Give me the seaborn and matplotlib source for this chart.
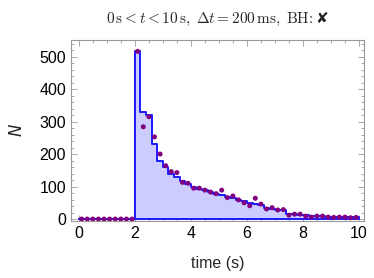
import numpy as np
import pandas as pd
import matplotlib
matplotlib.use("Agg")
import matplotlib.pyplot as plt
from matplotlib.ticker import MultipleLocator
import seaborn as sns

# 200 ms bins from 0 to 10 s
bin_edges = [round(0.2 * i, 2) for i in range(51)]
bin_centers = [round(e + 0.1, 2) for e in bin_edges[:-1]]

# histogram heights (step), first 10 bins empty
model_counts = [0] * 10 + [
    518, 328, 321, 231, 178, 160, 139, 130, 117, 108,
    99, 93, 88, 82, 78, 73, 69, 65, 60, 55,
    50, 47, 44, 34, 31, 29, 27, 17, 15, 14,
    12, 10, 9, 8, 7, 7, 6, 6, 5, 5,
]

# measured points at the bin centres
measured_counts = [0] * 10 + [
    516, 284, 315, 253, 200, 164, 146, 143, 113, 110,
    95, 95, 89, 83, 78, 89, 66, 71, 59, 50,
    41, 64, 46, 31, 35, 28, 29, 12, 15, 15,
    9, 6, 9, 9, 6, 5, 6, 6, 4, 5,
]

df = pd.DataFrame({"t": bin_centers, "model": model_counts, "measured": measured_counts})

sns.set_style("ticks")
plt.rcParams["font.family"] = ["Liberation Sans", "DejaVu Sans"]
plt.rcParams["mathtext.fontset"] = "cm"

fig = plt.figure(figsize=(3.74, 2.78), dpi=100)
ax = fig.add_axes([71 / 374, 1 - 221 / 278, 293 / 374, 181 / 278])

sns.histplot(data=df, x="t", weights="model", bins=bin_edges, element="step",
             fill=True, facecolor="#ccccff", edgecolor="#1a1aff", linewidth=1.4, ax=ax)
sns.scatterplot(data=df, x="t", y="measured", color="#800080", s=13,
                edgecolor="none", ax=ax, zorder=5)

ax.set_xlim(-0.28, 10.18)
ax.set_ylim(-6, 551)
ax.xaxis.set_major_locator(MultipleLocator(2))
ax.xaxis.set_minor_locator(MultipleLocator(0.5))
ax.yaxis.set_major_locator(MultipleLocator(100))
ax.yaxis.set_minor_locator(MultipleLocator(20))
ax.tick_params(which="both", direction="in", top=True, right=True, colors="#999999",
               labelcolor="black", labelsize=11.5, width=0.6)
ax.tick_params(which="major", length=4)
ax.tick_params(which="minor", length=2)
for sp in ax.spines.values():
    sp.set_color("#999999")
    sp.set_linewidth(0.8)

ax.set_xlabel("time (s)", fontsize=11.5, labelpad=11)
ax.set_ylabel("$N$", fontsize=12, labelpad=10)
ax.yaxis.label.set_math_fontfamily("dejavusans")

ax.set_title(r"$0\,\mathrm{s} < t < 10\,\mathrm{s},\;\Delta t = 200\,\mathrm{ms},\;\mathrm{BH}\!:$✘",
             fontsize=11, pad=12, family="DejaVu Sans")

fig.savefig("out.png", dpi=100)
